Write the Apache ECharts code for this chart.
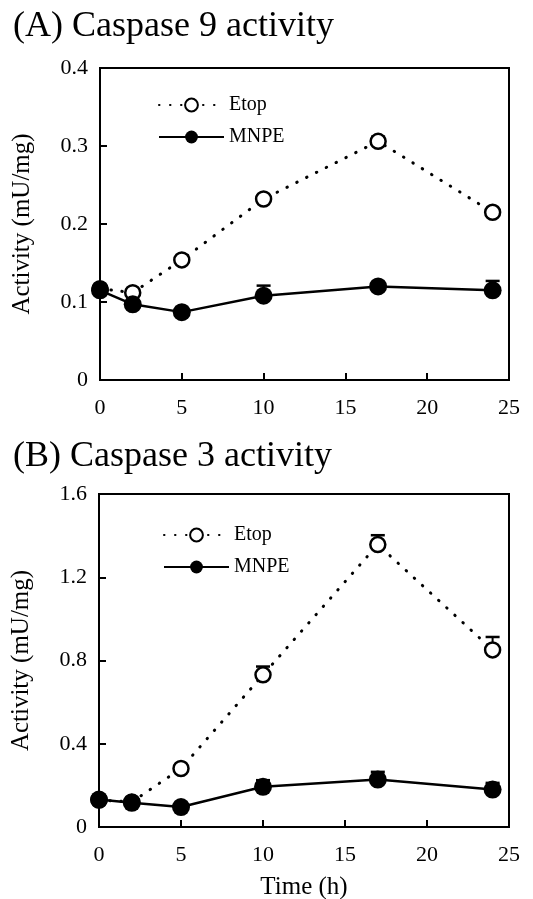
<!DOCTYPE html>
<html>
<head>
<meta charset="utf-8">
<script src="https://cdn.jsdelivr.net/npm/echarts@6/dist/echarts.min.js"></script>
<style>
  html, body { margin: 0; padding: 0; background: #fff; }
  #chart { width: 533px; height: 899px; }
</style>
</head>
<body>
<div id="chart"></div>
<script>
// time points (h)
const times = [0, 2, 5, 10, 17, 24];

// (A) caspase 9 activity, mU/mg
const casp9Etop = [0.117, 0.112, 0.154, 0.232, 0.306, 0.215];
const casp9EtopErr = [0.003, 0.004, 0.004, 0.005, 0.006, 0.004];
const casp9Mnpe = [0.115, 0.097, 0.087, 0.108, 0.120, 0.115];
const casp9MnpeErr = [0.003, 0.004, 0.003, 0.013, 0.004, 0.012];

// (B) caspase 3 activity, mU/mg
const casp3Etop = [0.13, 0.12, 0.281, 0.731, 1.357, 0.851];
const casp3EtopErr = [0.01, 0.01, 0.01, 0.04, 0.045, 0.062];
const casp3Mnpe = [0.132, 0.116, 0.096, 0.193, 0.228, 0.18];
const casp3MnpeErr = [0.01, 0.01, 0.01, 0.032, 0.037, 0.032];

const font = 'Liberation Serif';

function pairs(vals) {
  return times.map((t, i) => [t, vals[i]]);
}
function errData(vals, errs) {
  return times.map((t, i) => [t, vals[i], errs[i]]);
}

// upper error bar with a cap
function renderErr(params, api) {
  const x = api.value(0), y = api.value(1), e = api.value(2);
  const p0 = api.coord([x, y]);
  const p1 = api.coord([x, y + e]);
  const hw = 7;
  return {
    type: 'group',
    children: [
      { type: 'line', shape: { x1: p0[0], y1: p0[1], x2: p1[0], y2: p1[1] }, style: { stroke: '#000', lineWidth: 2 } },
      { type: 'line', shape: { x1: p1[0] - hw, y1: p1[1], x2: p1[0] + hw, y2: p1[1] }, style: { stroke: '#000', lineWidth: 2.5 } }
    ]
  };
}

function xAxis(idx, showName) {
  return {
    type: 'value', gridIndex: idx, min: 0, max: 25, interval: 5,
    name: showName ? 'Time (h)' : '',
    nameLocation: 'middle', nameGap: 48,
    nameTextStyle: { fontFamily: font, fontSize: 25, color: '#000' },
    axisLine: { show: true, onZero: false, lineStyle: { color: '#000', width: 2 } },
    axisTick: { show: true, inside: true, length: 7, lineStyle: { color: '#000', width: 2 } },
    axisLabel: { fontFamily: font, fontSize: 22, color: '#000', margin: 17 },
    splitLine: { show: false }
  };
}
function yAxis(idx, max, interval) {
  return {
    type: 'value', gridIndex: idx, min: 0, max: max, interval: interval,
    name: 'Activity (mU/mg)',
    nameLocation: 'middle', nameGap: 65, nameRotate: 90,
    nameTextStyle: { fontFamily: font, fontSize: 25, color: '#000' },
    axisLine: { show: true, lineStyle: { color: '#000', width: 2 } },
    axisTick: { show: true, inside: true, length: 7, lineStyle: { color: '#000', width: 2 } },
    axisLabel: { fontFamily: font, fontSize: 22, color: '#000', margin: 12 },
    splitLine: { show: false }
  };
}

function etopSeries(idx, vals) {
  return {
    name: 'Etop', type: 'line', xAxisIndex: idx, yAxisIndex: idx,
    data: pairs(vals), symbol: 'circle', symbolSize: 15,
    lineStyle: { color: '#000', width: 3, type: [0.5, 10.5], cap: 'round' },
    itemStyle: { color: '#fff', borderColor: '#000', borderWidth: 2.5 },
    z: 3, animation: false
  };
}
function mnpeSeries(idx, vals) {
  return {
    name: 'MNPE', type: 'line', xAxisIndex: idx, yAxisIndex: idx,
    data: pairs(vals), symbol: 'circle', symbolSize: 18,
    lineStyle: { color: '#000', width: 2.5 },
    itemStyle: { color: '#000', borderColor: '#000', borderWidth: 0 },
    z: 4, animation: false
  };
}
function errSeries(idx, vals, errs) {
  return {
    type: 'custom', xAxisIndex: idx, yAxisIndex: idx,
    data: errData(vals, errs), renderItem: renderErr, z: 2,
    silent: true, animation: false
  };
}

function legend(left, top) {
  return {
    orient: 'vertical', left: left, top: top,
    itemWidth: 65, itemHeight: 16, itemGap: 12,
    textStyle: { fontFamily: font, fontSize: 20, color: '#000' },
    data: ['Etop', 'MNPE']
  };
}

const chart = echarts.init(document.getElementById('chart'), null, { renderer: 'canvas' });
chart.setOption({
  backgroundColor: '#fff',
  animation: false,
  title: [
    { text: '(A) Caspase 9 activity', left: 8, top: 4, textStyle: { fontFamily: font, fontSize: 36, fontWeight: 'normal', color: '#000' } },
    { text: '(B) Caspase 3 activity', left: 8, top: 434, textStyle: { fontFamily: font, fontSize: 36, fontWeight: 'normal', color: '#000' } }
  ],
  legend: [legend(153, 90), legend(158, 520)],
  grid: [
    { left: 100, right: 24, top: 68, height: 312, show: true, borderColor: '#000', borderWidth: 2, outerBoundsMode: 'none' },
    { left: 99, right: 24, top: 494, height: 333, show: true, borderColor: '#000', borderWidth: 2, outerBoundsMode: 'none' }
  ],
  xAxis: [xAxis(0, false), xAxis(1, true)],
  yAxis: [yAxis(0, 0.4, 0.1), yAxis(1, 1.6, 0.4)],
  series: [
    errSeries(0, casp9Etop, casp9EtopErr),
    errSeries(0, casp9Mnpe, casp9MnpeErr),
    etopSeries(0, casp9Etop),
    mnpeSeries(0, casp9Mnpe),
    errSeries(1, casp3Etop, casp3EtopErr),
    errSeries(1, casp3Mnpe, casp3MnpeErr),
    etopSeries(1, casp3Etop),
    mnpeSeries(1, casp3Mnpe)
  ]
});
</script>
</body>
</html>
